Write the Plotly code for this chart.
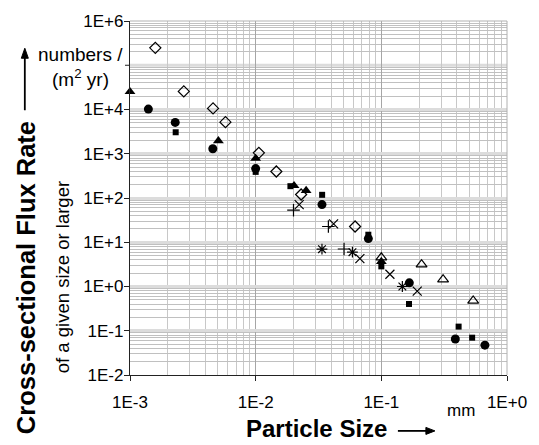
import plotly.graph_objects as go

# ---- data (particle size in mm, cumulative flux numbers/(m2 yr)) ----
diamond_x = [1.59e-3, 2.68e-3, 4.58e-3, 5.75e-3, 1.06e-2, 1.46e-2, 2.30e-2, 6.18e-2]
diamond_y = [2.47e5, 2.56e4, 1.06e4, 5.18e3, 1.05e3, 397, 120, 22.7]

tri_x = [1.0e-3, 5.05e-3, 1.0e-2, 2.02e-2, 2.52e-2, 0.1]
tri_y = [2.52e4, 1.96e3, 783, 190, 147, 3.67]

circ_x = [1.40e-3, 2.29e-3, 4.56e-3, 1.0e-2, 3.37e-2, 7.88e-2, 0.167, 0.388, 0.667]
circ_y = [1.02e4, 5.10e3, 1.30e3, 462, 71, 12.1, 1.21, 0.0652, 0.0472]

sq_x = [2.31e-3, 1.0e-2, 1.89e-2, 3.38e-2, 7.88e-2, 0.1, 0.166, 0.412, 0.528]
sq_y = [3.06e3, 389, 185, 118, 14.8, 2.85, 0.403, 0.124, 0.0697]

xm_x = [2.22e-2, 4.17e-2, 6.75e-2, 0.117, 0.193]
xm_y = [71, 26, 4.28, 1.89, 0.783]

plus_x = [2.0e-2, 3.79e-2, 5.05e-2]
plus_y = [53, 22.7, 7.03]

ast_x = [3.37e-2, 5.89e-2, 0.147]
ast_y = [6.97, 5.97, 1.0]

otri_x = [0.1, 0.209, 0.310, 0.538]
otri_y = [4.51, 3.15, 1.44, 0.477]

x_tickvals = [1e-3, 1e-2, 1e-1, 1e0]
x_ticktext = ["1E-3", "1E-2", "1E-1", "1E+0"]
y_tickvals = [1e-2, 1e-1, 1e0, 1e1, 1e2, 1e3, 1e4, 1e6]
y_ticktext = ["1E-2", "1E-1", "1E+0", "1E+1", "1E+2", "1E+3", "1E+4", "1E+6"]
y_unlabelled_major = 1e5   # its label is replaced by the unit text

FONT = "Arial, Liberation Sans, sans-serif"

def minor_vals(lo, hi):
    out = []
    for e in range(lo, hi):
        for k in range(2, 10):
            out.append(k * 10 ** e)
    return out

fig = go.Figure()

def add(xs, ys, symbol, size, lw=1.2):
    fig.add_trace(go.Scatter(
        x=xs, y=ys, mode="markers", cliponaxis=False,
        marker=dict(symbol=symbol, size=size, color="black",
                    line=dict(color="black", width=lw)),
        showlegend=False))

add(diamond_x, diamond_y, "diamond-open", 8.5)
add(tri_x, tri_y, "triangle-up", 9.5, 0)
add(circ_x, circ_y, "circle", 9, 0)
add(sq_x, sq_y, "square", 6, 0)
add(xm_x, xm_y, "x-thin-open", 9)
add(plus_x, plus_y, "cross-thin-open", 9)
add(ast_x, ast_y, "asterisk-open", 9)
add(otri_x, otri_y, "triangle-up-open", 9.5)

axis_common = dict(
    type="log",
    tickmode="array",
    showline=True, linecolor="#222222", linewidth=1.2,
    ticks="outside", ticklen=5, tickcolor="#222222", tickwidth=1,
    tickfont=dict(family=FONT, size=17, color="black"),
    showgrid=True,
    zeroline=False,
)

fig.update_xaxes(
    **axis_common,
    range=[-3, 0],
    tickvals=x_tickvals, ticktext=x_ticktext,
    gridcolor="#a6a6a6", gridwidth=1,
    minor=dict(tickmode="array", tickvals=minor_vals(-3, 0),
               showgrid=True, gridcolor="#c8c8c8", gridwidth=1, ticks=""),
    ticklabelstandoff=6,
)
fig.update_yaxes(
    **axis_common,
    range=[-2, 6],
    tickvals=y_tickvals, ticktext=y_ticktext,
    gridcolor="#dcdcdc", gridwidth=3,
    minor=dict(tickmode="array", tickvals=minor_vals(-2, 6),
               showgrid=True, gridcolor="#c0c0c0", gridwidth=1, ticks=""),
    ticklabelstandoff=-3,
)

# unlabelled major line at 1E+5 (grid + tick mark)
fig.add_shape(type="line", xref="paper", yref="y", x0=0, x1=1,
              y0=y_unlabelled_major, y1=y_unlabelled_major, layer="below",
              line=dict(color="#dcdcdc", width=3))
fig.add_shape(type="line", xref="paper", yref="y", xsizemode="pixel", xanchor=0,
              x0=-5, x1=0, y0=y_unlabelled_major, y1=y_unlabelled_major,
              line=dict(color="#222222", width=1))

# plot-area frame on top/right (grey like gridlines)
fig.add_shape(type="line", xref="paper", yref="paper", x0=1, x1=1, y0=0, y1=1,
              line=dict(color="#b0b0b0", width=1))
fig.add_shape(type="line", xref="paper", yref="paper", x0=0, x1=1, y0=1, y1=1,
              line=dict(color="#b0b0b0", width=1))

# arrows drawn as pixel-sized shapes anchored in paper coordinates
def arrow(ax_, ay_, path_shaft, path_head):
    fig.add_shape(type="path", xref="paper", yref="paper",
                  xsizemode="pixel", ysizemode="pixel", xanchor=ax_, yanchor=ay_,
                  path=path_shaft, line=dict(color="black", width=1.8))
    fig.add_shape(type="path", xref="paper", yref="paper",
                  xsizemode="pixel", ysizemode="pixel", xanchor=ax_, yanchor=ay_,
                  path=path_head, fillcolor="black", line=dict(color="black", width=1))

# vertical arrow (base at page y=102, tip at y=40, x=22)
arrow(-0.279, 0.7479, "M0,0 L0,54", "M-3.5,52 L3.5,52 L0,62 Z")
# horizontal arrow (base at page x=405, tip at x=442, y=432)
arrow(0.7106, -0.1579, "M0,0 L30,0", "M28,-3.5 L28,3.5 L37,0 Z")

ann = []
def txt(x, y, s, size, bold=False, angle=0):
    ann.append(dict(xref="paper", yref="paper", x=x, y=y, text=(f"<b>{s}</b>" if bold else s),
                    showarrow=False, textangle=angle, xanchor="center", yanchor="middle",
                    font=dict(family=FONT, size=size, color="black")))

txt(-0.131, 0.9058, "numbers /", 19)
txt(-0.131, 0.839, "(m<sup>2</sup> yr)", 19)
txt(-0.274, 0.2756, "Cross-sectional Flux Rate", 25.5, bold=True, angle=-90)
txt(-0.1770, 0.277, "of a given size or larger", 18.5, angle=-90)
txt(0.495, -0.150, "Particle Size", 24, bold=True)
txt(0.878, -0.099, "mm", 17)

fig.update_layout(
    width=539, height=445,
    margin=dict(l=130, r=22, t=14, b=70),
    paper_bgcolor="white", plot_bgcolor="white",
    annotations=ann,
    showlegend=False,
)

fig.write_html("out.html", config={"displayModeBar": False},
               post_script="document.body.style.margin='0';")
